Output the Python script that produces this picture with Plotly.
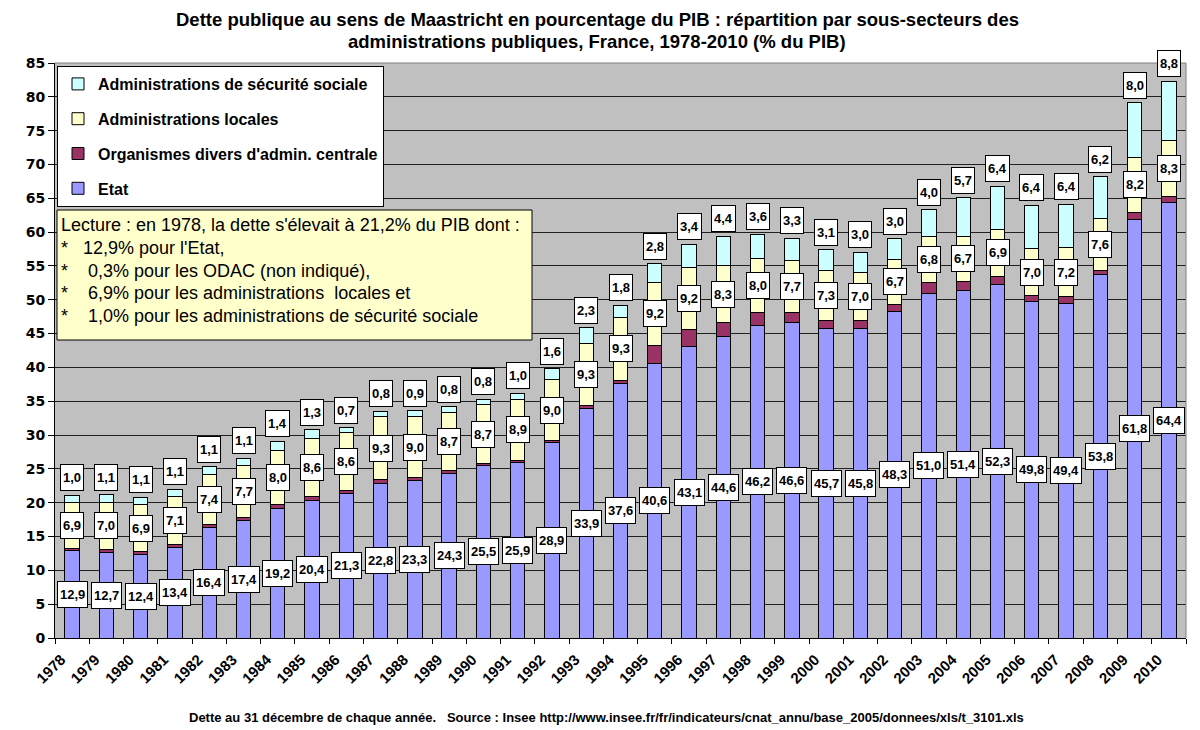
import plotly.graph_objects as go

years = [str(y) for y in range(1978, 2011)]
etat = [12.9, 12.7, 12.4, 13.4, 16.4, 17.4, 19.2, 20.4, 21.3, 22.8, 23.3, 24.3, 25.5, 25.9, 28.9,
        33.9, 37.6, 40.6, 43.1, 44.6, 46.2, 46.6, 45.7, 45.8, 48.3, 51.0, 51.4, 52.3, 49.8, 49.4,
        53.8, 61.8, 64.4]
odac = [0.3, 0.4, 0.4, 0.4, 0.4, 0.4, 0.5, 0.5, 0.5, 0.6, 0.4, 0.4, 0.3, 0.4, 0.3,
        0.4, 0.5, 2.7, 2.5, 2.1, 1.9, 1.5, 1.3, 1.2, 1.0, 1.5, 1.3, 1.2, 0.8, 1.1,
        0.6, 1.1, 0.8]
locales = [6.9, 7.0, 6.9, 7.1, 7.4, 7.7, 8.0, 8.6, 8.6, 9.3, 9.0, 8.7, 8.7, 8.9, 9.0,
           9.3, 9.3, 9.2, 9.2, 8.3, 8.0, 7.7, 7.3, 7.0, 6.7, 6.8, 6.7, 6.9, 7.0, 7.2,
           7.6, 8.2, 8.3]
sociale = [1.0, 1.1, 1.1, 1.1, 1.1, 1.1, 1.4, 1.3, 0.7, 0.8, 0.9, 0.8, 0.8, 1.0, 1.6,
           2.3, 1.8, 2.8, 3.4, 4.4, 3.6, 3.3, 3.1, 3.0, 3.0, 4.0, 5.7, 6.4, 6.4, 6.4,
           6.2, 8.0, 8.8]

series_names = ["Etat", "Organismes divers d'admin. centrale", "Administrations locales",
                "Administrations de sécurité sociale"]
series_colors = ["#9999FF", "#993366", "#FFFFCC", "#CCFFFF"]

title_lines = ["Dette publique au sens de Maastricht en pourcentage du PIB : répartition par sous-secteurs des",
               "administrations publiques, France, 1978-2010 (% du PIB)"]
lecture_lines = [
    "Lecture : en 1978, la dette s'élevait à 21,2% du PIB dont :",
    "*\u00a0\u00a0 12,9% pour l'Etat,",
    "*\u00a0\u00a0\u00a0 0,3% pour les ODAC (non indiqué),",
    "*\u00a0\u00a0\u00a0 6,9% pour les administrations\u00a0 locales et",
    "*\u00a0\u00a0\u00a0 1,0% pour les administrations de sécurité sociale",
]
footer_text = ("Dette au 31 décembre de chaque année.\u00a0\u00a0 Source : Insee "
               "http://www.insee.fr/fr/indicateurs/cnat_annu/base_2005/donnees/xls/t_3101.xls")

FONT = "Liberation Sans, Arial, sans-serif"

# The page body has an 8px margin: the figure is sized/offset so the plot lands where the reference has it.
OFF = 8
FIG_W, FIG_H = 1200 - OFF, 730 - OFF
L, T, W, H = 55, 63, 1131, 575  # plot area in reference (window) pixels


def px_x(p):
    return (p - L) / W


def px_y(p):
    return (T + H - p) / H


fig = go.Figure()
n_series = 4
for i, (vals, name, col) in enumerate(zip([etat, odac, locales, sociale], series_names, series_colors)):
    fig.add_trace(go.Bar(
        x=years, y=vals, name=f"<b>{name}</b>",
        marker=dict(color=col, line=dict(color="black", width=1)),
        width=0.42, legendgroup=f"g{i}", legendrank=n_series - i,
    ))


def fmt(v):
    return f"{v:.1f}".replace(".", ",")


anns = []
lab_style = dict(showarrow=False, bgcolor="white", bordercolor="black", borderwidth=1, borderpad=2,
                 font=dict(family=FONT, size=13, color="black"), height=21, xref="x", yref="y")
for i in range(len(years)):
    e, o, l, s = etat[i], odac[i], locales[i], sociale[i]
    anns.append(dict(x=i, y=e / 2, text=f"<b>{fmt(e)}</b>", yanchor="middle", **lab_style))
    anns.append(dict(x=i, y=e + o + l / 2, text=f"<b>{fmt(l)}</b>", yanchor="middle", **lab_style))
    anns.append(dict(x=i, y=e + o + l + s, text=f"<b>{fmt(s)}</b>", yanchor="bottom", yshift=4, **lab_style))

# title, one annotation per line
for k, line in enumerate(title_lines):
    anns.append(dict(x=px_x(597), y=px_y(19 + k * 23), xref="paper", yref="paper", text=f"<b>{line}</b>",
                     showarrow=False, xanchor="center", yanchor="middle",
                     font=dict(family=FONT, size=18.5, color="black")))

for k, line in enumerate(lecture_lines):
    anns.append(dict(x=px_x(59), y=px_y(225 + k * 22.75), xref="paper", yref="paper", text=line,
                     showarrow=False, xanchor="left", yanchor="middle",
                     font=dict(family=FONT, size=18, color="black")))

anns.append(dict(x=px_x(606), y=px_y(717), xref="paper", yref="paper", text=f"<b>{footer_text}</b>",
                 showarrow=False, xanchor="center", yanchor="middle",
                 font=dict(family=FONT, size=13, color="black")))

shapes = [
    dict(type="rect", xref="paper", yref="paper", x0=px_x(57), x1=px_x(532), y0=px_y(340), y1=px_y(210),
         fillcolor="#FFFFCC", line=dict(color="black", width=1), layer="above"),
    dict(type="line", xref="paper", yref="paper", x0=0, x1=1, y0=1, y1=1, line=dict(color="#808080", width=1)),
    dict(type="line", xref="paper", yref="paper", x0=1, x1=1, y0=0, y1=1, line=dict(color="#808080", width=1)),
]

fig.update_layout(
    width=FIG_W, height=FIG_H,
    margin=dict(l=L - OFF, r=FIG_W - (L - OFF) - W, t=T - OFF, b=FIG_H - (T - OFF) - H, autoexpand=False),
    paper_bgcolor="white", plot_bgcolor="#C0C0C0",
    barmode="stack",
    legend=dict(x=px_x(57), y=px_y(66), xanchor="left", yanchor="top", traceorder="grouped",
                bgcolor="white", bordercolor="black", borderwidth=1, tracegroupgap=11,
                font=dict(family=FONT, size=16, color="black")),
    xaxis=dict(type="category", range=[-0.5, len(years) - 0.5], tickangle=-45, tickson="boundaries",
               ticks="outside", ticklen=5, tickcolor="black", showline=True, linecolor="black",
               showgrid=False, automargin=False, ticklabelshift=-11, ticklabelstandoff=6,
               tickfont=dict(family=FONT, size=15, color="black", weight="bold")),
    yaxis=dict(range=[0, 85], dtick=5, tick0=0, showgrid=True, gridcolor="#202020", gridwidth=1,
               showline=True, linecolor="black", ticks="outside", ticklen=6, tickcolor="black",
               zeroline=False, automargin=False,
               tickfont=dict(family="DejaVu Sans, sans-serif", size=14, color="black", weight="bold")),
    annotations=anns,
    shapes=shapes,
)

fig.write_html("out.html")
